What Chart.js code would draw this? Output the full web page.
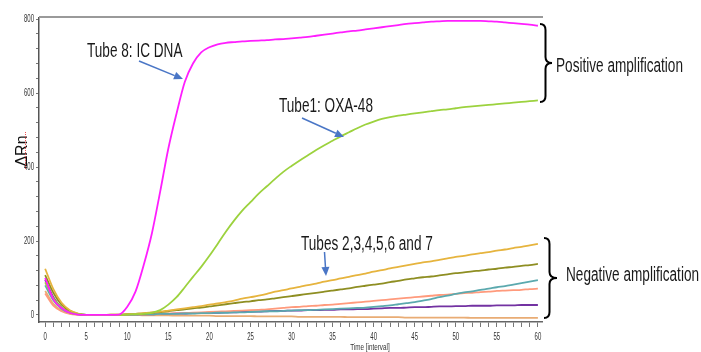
<!DOCTYPE html>
<html>
<head>
<meta charset="utf-8">
<script src="https://cdn.jsdelivr.net/npm/chart.js@4/dist/chart.umd.min.js"></script>
<style>
  body { margin: 0; background: #fff; }
  canvas { display: block; }
</style>
</head>
<body>
<canvas id="chart" width="701" height="352"></canvas>
<script>
// time points (intervals 0..60)
const cycles = [];
for (let i = 0; i <= 60; i++) cycles.push(i);

// delta Rn per tube
const tube8 = [100,42,19,6,1,0,0,0,0,1,22,63,135,221,333,450,545,630,680,710,724,732,736,738,740,741,742,743,745,746,748,750,752,755,758,761,764,767,769,772,775,778,781,784,787,789,791,793,794,795,795,795,795,795,794,793,791,789,787,785,782];
const tube1 = [88,45,20,7,2,0,0,0,0,0,1,2,3,6,13,28,48,75,103,130,160,192,225,255,282,305,328,348,368,387,403,418,432,446,459,471,483,494,505,515,523,530,535,539,542,545,548,551,554,556,559,562,564,566,568,570,572,574,576,578,580];
const tubeGold = [125,70,33,13,4,0,0,0,1,1,2,3,5,7,9,12,15,18,21,24,28,31,35,39,44,48,52,57,63,67,72,76,81,85,90,94,99,103,108,112,117,121,126,130,134,138,142,145,149,153,157,160,164,167,170,174,177,181,184,188,192];
const tubeOlive = [108,60,28,11,3,0,0,0,1,1,2,3,4,6,8,10,13,15,18,20,23,26,29,32,35,37,40,42,45,48,51,54,57,60,63,66,69,72,76,79,82,85,89,92,96,99,102,104,107,110,113,115,118,120,123,125,128,130,133,135,138];
const tubeTeal = [80,40,17,6,2,0,0,0,0,0,1,1,2,2,3,3,3,4,4,5,5,6,6,7,7,8,9,10,10,11,12,13,13,14,15,16,17,18,19,20,22,24,26,29,32,35,39,43,48,52,57,61,64,68,71,75,78,82,86,90,94];
const tubeSalmon = [58,25,10,3,1,0,0,0,0,0,1,1,2,2,3,4,4,5,6,7,8,9,10,11,12,13,14,15,17,19,21,22,24,25,27,28,30,32,34,36,38,40,42,44,46,48,50,52,54,55,57,59,60,62,63,65,66,67,68,70,71];
const tubePurple = [95,48,20,7,2,0,0,0,0,0,1,1,2,2,3,3,4,4,5,5,6,6,7,7,8,9,9,10,11,11,12,12,13,13,14,14,15,15,16,16,17,18,19,19,20,21,21,22,23,23,24,24,25,25,25,26,26,26,27,27,27];
const tubeTan = [65,30,12,4,1,0,0,0,0,0,0,0,-1,-1,-1,-1,-2,-2,-2,-2,-2,-3,-3,-3,-3,-3,-4,-4,-4,-4,-4,-5,-5,-5,-5,-5,-5,-6,-6,-6,-6,-6,-6,-6,-7,-7,-7,-7,-7,-7,-7,-7,-8,-8,-8,-8,-8,-8,-8,-8,-8];

const xTickLabels = [0,5,10,15,20,25,30,35,40,45,50,55,60];
const yTickLabels = [0,200,400,600,800];

const series = [
  { name: "Tube 8", data: tube8, color: "#FF1EFF" },
  { name: "Tube 1", data: tube1, color: "#9CD23E" },
  { name: "Tube 2", data: tubeGold, color: "#E6B43E" },
  { name: "Tube 3", data: tubeOlive, color: "#8E8E22" },
  { name: "Tube 4", data: tubeTeal, color: "#5BA9AE" },
  { name: "Tube 5", data: tubeSalmon, color: "#FF9A7C" },
  { name: "Tube 6", data: tubePurple, color: "#7332A2" },
  { name: "Tube 7", data: tubeTan, color: "#E9AC74" }
];

const FONT = "'Liberation Sans', Arial, sans-serif";

// squeezed text, the source image is compressed horizontally
function squeezed(ctx, str, x, y, size, sx, align) {
  ctx.save();
  ctx.font = size + "px " + FONT;
  ctx.textAlign = align || "left";
  ctx.translate(x, y);
  ctx.scale(sx, 1);
  ctx.fillText(str, 0, 0);
  ctx.restore();
}

function arrow(ctx, x1, y1, x2, y2) {
  const a = Math.atan2(y2 - y1, x2 - x1);
  const hl = 9, hw = 4;
  const bx = x2 - hl * Math.cos(a), by = y2 - hl * Math.sin(a);
  ctx.save();
  ctx.strokeStyle = "#4A76C6";
  ctx.fillStyle = "#4A76C6";
  ctx.lineWidth = 1.5;
  ctx.beginPath();
  ctx.moveTo(x1, y1);
  ctx.lineTo(bx, by);
  ctx.stroke();
  ctx.beginPath();
  ctx.moveTo(x2, y2);
  ctx.lineTo(bx + hw * Math.sin(a), by - hw * Math.cos(a));
  ctx.lineTo(bx - hw * Math.sin(a), by + hw * Math.cos(a));
  ctx.closePath();
  ctx.fill();
  ctx.restore();
}

function brace(ctx, x0, xs, xt, y1, y2) {
  const ym = (y1 + y2) / 2, r = 6;
  ctx.save();
  ctx.strokeStyle = "#000";
  ctx.lineWidth = 2;
  ctx.beginPath();
  ctx.moveTo(x0, y1);
  ctx.quadraticCurveTo(xs, y1, xs, y1 + r);
  ctx.lineTo(xs, ym - r);
  ctx.quadraticCurveTo(xs, ym, xt, ym);
  ctx.quadraticCurveTo(xs, ym, xs, ym + r);
  ctx.lineTo(xs, y2 - r);
  ctx.quadraticCurveTo(xs, y2, x0, y2);
  ctx.stroke();
  ctx.restore();
}

const decorations = {
  id: "decorations",
  afterDraw(chart) {
    const ctx = chart.ctx;
    const xs = chart.scales.x, ys = chart.scales.y;
    const area = chart.chartArea;

    // frame top
    ctx.save();
    ctx.strokeStyle = "#9a9a9a";
    ctx.lineWidth = 2;
    ctx.beginPath();
    ctx.moveTo(area.left, area.top - 1);
    ctx.lineTo(area.right + 1, area.top - 1);
    ctx.stroke();
    ctx.restore();

    // tick labels
    ctx.fillStyle = "#333";
    ctx.textBaseline = "middle";
    xTickLabels.forEach(v => squeezed(ctx, String(v), xs.getPixelForValue(v), area.bottom + 15, 10, 0.6, "center"));
    yTickLabels.forEach(v => squeezed(ctx, String(v), area.left - 5, ys.getPixelForValue(v), 10, 0.6, "right"));

    // axis titles
    ctx.textBaseline = "alphabetic";
    squeezed(ctx, "Time [interval]", 370, 350, 9, 0.7, "center");
    ctx.save();
    ctx.translate(27, 151);
    ctx.rotate(-Math.PI / 2);
    ctx.fillStyle = "#111";
    ctx.font = "16px " + FONT;
    ctx.textAlign = "center";
    ctx.fillText("\u0394Rn", 0, 0);
    ctx.restore();
    ctx.save();
    ctx.strokeStyle = "#f05050";
    ctx.setLineDash([1, 1]);
    ctx.lineWidth = 1;
    ctx.beginPath();
    ctx.moveTo(25.5, 132);
    ctx.lineTo(25.5, 169);
    ctx.stroke();
    ctx.restore();

    // annotations
    ctx.fillStyle = "#1a1a1a";
    squeezed(ctx, "Tube 8: IC DNA", 87, 57, 20, 0.68);
    squeezed(ctx, "Tube1: OXA-48", 279, 112, 20, 0.68);
    squeezed(ctx, "Tubes 2,3,4,5,6 and 7", 301, 250, 20, 0.68);
    squeezed(ctx, "Positive amplification", 556, 72, 20, 0.68);
    squeezed(ctx, "Negative amplification", 566, 281, 20, 0.68);

    arrow(ctx, 139, 61, 183, 79);
    arrow(ctx, 302, 118, 344, 137);
    arrow(ctx, 324.5, 252, 326, 276);

    brace(ctx, 540, 545.5, 552, 24, 102);
    brace(ctx, 544, 549.5, 557, 238, 318);
  }
};

const chart = new Chart(document.getElementById("chart"), {
  type: "line",
  data: {
    datasets: series.map(s => ({
      label: s.name,
      data: s.data.map((v, i) => ({ x: cycles[i], y: v })),
      borderColor: s.color,
      borderWidth: 1.8,
      pointRadius: 0,
      fill: false,
      cubicInterpolationMode: "monotone"
    }))
  },
  options: {
    responsive: false,
    animation: false,
    devicePixelRatio: 1,
    layout: { padding: { top: 18, right: 159, left: 0, bottom: 0 } },
    plugins: { legend: { display: false }, tooltip: { enabled: false } },
    scales: {
      x: {
        type: "linear",
        min: -0.75,
        max: 60.5,
        ticks: { display: false, stepSize: 1, includeBounds: false },
        grid: { drawOnChartArea: false, drawTicks: true, tickLength: 5, color: "#777" },
        border: { color: "#666", width: 1.5 },
        afterFit: s => { s.height = 30; }
      },
      y: {
        min: -19,
        max: 803,
        ticks: { display: false, stepSize: 40, includeBounds: false },
        grid: { drawOnChartArea: false, drawTicks: true, tickLength: 3, color: "#777" },
        border: { color: "#555", width: 1.5 },
        afterFit: s => { s.width = 39; }
      }
    }
  },
  plugins: [decorations]
});
</script>
</body>
</html>
